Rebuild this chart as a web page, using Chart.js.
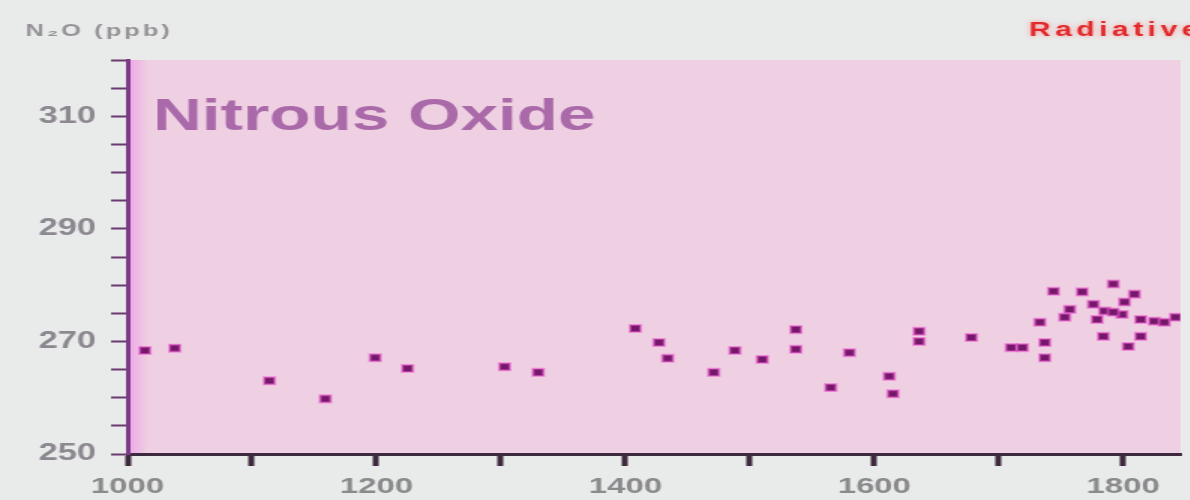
<!DOCTYPE html>
<html>
<head>
<meta charset="utf-8">
<script src="https://cdn.jsdelivr.net/npm/chart.js@4.4.1/dist/chart.umd.min.js"></script>
<style>
  html, body { margin: 0; padding: 0; background: #e9eaea; overflow: hidden; }
  /* the source picture is stretched sideways, so draw narrow and widen it */
  #wrap { width: 794px; height: 500px; transform: scaleX(1.5); transform-origin: 0 0; }
</style>
</head>
<body>
<div id="wrap"><canvas id="chart" width="794" height="500"></canvas></div>
<script>
const years = [
  1014, 1038, 1114, 1159, 1199, 1225, 1303, 1330,
  1408, 1427, 1434, 1471, 1488, 1510, 1537, 1537, 1565, 1580, 1612, 1615,
  1636, 1636, 1678, 1710, 1719, 1733, 1737, 1737,
  1744, 1767, 1792, 1809, 1757, 1753, 1776, 1785, 1801, 1799, 1814, 1825,
  1833, 1784, 1804, 1814, 1779, 1792, 1842
]
const n2oPpb = [
  268.4, 268.8, 263.0, 259.8, 267.1, 265.2, 265.5, 264.5,
  272.3, 269.8, 267.0, 264.5, 268.4, 266.8, 272.1, 268.6, 261.8, 268.0, 263.8, 260.7,
  271.8, 270.0, 270.7, 268.9, 268.9, 273.4, 269.8, 267.1,
  278.9, 278.8, 280.2, 278.4, 275.7, 274.3, 276.6, 275.4, 277.0, 274.8, 273.9, 273.6,
  273.4, 270.9, 269.1, 270.9, 273.9, 275.2, 274.3
]
const xTickLabels = [1000, 1200, 1400, 1600, 1800]
const yTickLabels = [250, 270, 290, 310]

const points = years.map((y, i) => ({ x: y, y: n2oPpb[i] }))

const decor = {
  id: 'decor',
  beforeDraw(chart) {
    const { ctx, chartArea: a } = chart
    ctx.save()
    ctx.fillStyle = '#efd0e2'
    ctx.fillRect(a.left, a.top, a.right - a.left, a.bottom - a.top)
    const g = ctx.createLinearGradient(a.left, 0, a.left + 14, 0)
    g.addColorStop(0, 'rgba(238,160,232,0.9)')
    g.addColorStop(1, 'rgba(238,160,232,0)')
    ctx.fillStyle = g
    ctx.fillRect(a.left, a.top, 14, a.bottom - a.top)
    ctx.restore()
  },
  beforeDatasetsDraw(chart) {
    const { ctx, chartArea: a } = chart
    ctx.save()
    ctx.textBaseline = 'alphabetic'
    ctx.textAlign = 'left'
    // big panel label
    ctx.fillStyle = '#aa6aaa'
    ctx.font = 'bold 45px "Liberation Sans", Arial, sans-serif'
    ctx.fillText('Nitrous Oxide', a.left + 17, 130)
    // unit label above the axis
    ctx.letterSpacing = '2px'
    ctx.fillStyle = '#969398'
    ctx.font = 'bold 17px "Liberation Sans", Arial, sans-serif'
    ctx.fillText('N\u2082O (ppb)', 17, 36)
    // cut-off heading at the top right
    ctx.letterSpacing = '3px'
    ctx.fillStyle = '#e02a2c'
    ctx.shadowColor = 'rgba(255,120,120,0.7)'
    ctx.shadowBlur = 4
    ctx.font = 'bold 20px "Liberation Sans", Arial, sans-serif'
    ctx.fillText('Radiative Forcing', 686, 36)
    ctx.restore()
  }
}

const ctx = document.getElementById('chart').getContext('2d')
new Chart(ctx, {
  type: 'scatter',
  data: {
    datasets: [
      {
        data: points,
        pointStyle: 'rect',
        pointRadius: 5,
        pointBackgroundColor: '#74186a',
        pointBorderColor: 'rgba(235,90,205,0.55)',
        pointBorderWidth: 2,
        pointHoverRadius: 5,
      },
    ],
  },
  options: {
    responsive: false,
    animation: false,
    layout: { padding: { top: 60, left: 0, right: 0, bottom: 0 } },
    plugins: {
      legend: { display: false },
      tooltip: { enabled: false },
    },
    scales: {
      x: {
        type: 'linear',
        min: 1000,
        max: 1846,
        afterFit: (scale) => { scale.height = 46 },
        border: { color: '#3e2a3e', width: 3 },
        grid: { drawOnChartArea: false, tickLength: 12, tickWidth: 4, tickColor: '#3e2a3e' },
        ticks: {
          stepSize: 100,
          autoSkip: false,
          includeBounds: false,
          maxRotation: 0,
          padding: 8,
          color: '#8a8a8c',
          font: { family: '"Liberation Sans", Arial, sans-serif', size: 22, weight: 'bold' },
          callback: (v) => (xTickLabels.includes(v) ? String(v) : ''),
        },
      },
      y: {
        min: 250,
        max: 320,
        afterFit: (scale) => { scale.width = 85 },
        border: { color: '#7a3a86', width: 3 },
        grid: { drawOnChartArea: false, tickLength: 11, tickWidth: 2, tickColor: '#6a3a70' },
        ticks: {
          stepSize: 5,
          autoSkip: false,
          padding: 10,
          color: '#8c8890',
          font: { family: '"Liberation Sans", Arial, sans-serif', size: 23, weight: 'bold' },
          callback: (v) => (yTickLabels.includes(v) ? String(v) : ''),
        },
      },
    },
  },
  plugins: [decor],
})
</script>
</body>
</html>
